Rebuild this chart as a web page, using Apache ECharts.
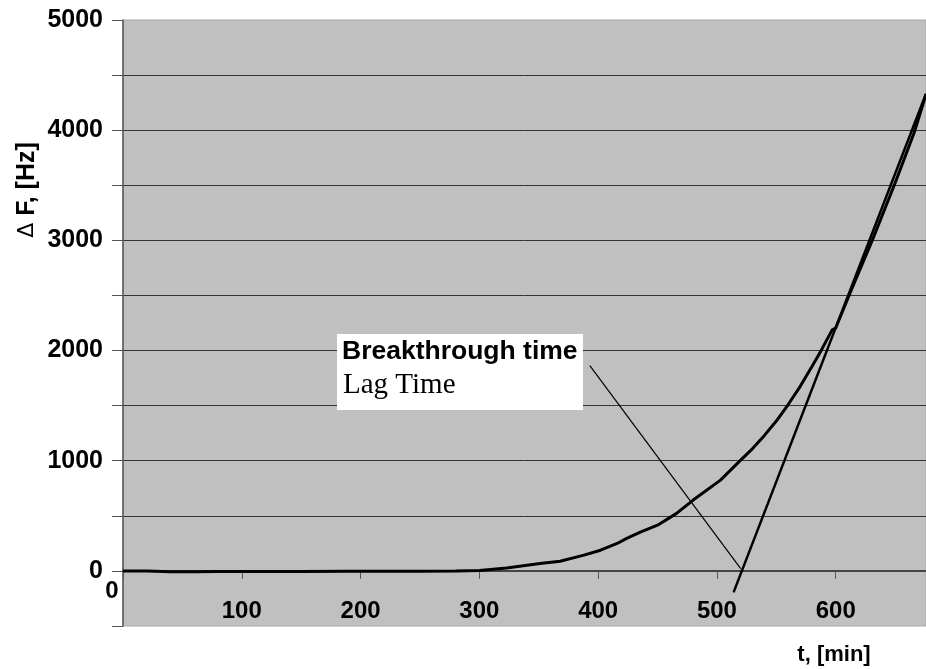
<!DOCTYPE html>
<html>
<head>
<meta charset="utf-8">
<script src="https://cdn.jsdelivr.net/npm/echarts@6/dist/echarts.min.js"></script>
<style>html,body{margin:0;padding:0;background:#fff}#c{width:926px;height:669px}</style>
</head>
<body>
<div id="c"></div>
<script>
// Measured curve (t in min, ΔF in Hz)
const curveT = [0,20,40,60,80,100,150,190,220,250,280,300,323,351,368,388,402,416,424,436,450,466,480,503,520,530,540,550,560,570,580,588,597,600,612,631,650,666,676];
const curveF = [0,0,-8,-8,-5,-6,-6,-3,-4,-2,0,3,27,67,88,143,188,249,295,355,415,522,643,824,1006,1110,1230,1360,1510,1673,1855,2006,2188,2205,2521,3006,3521,3976,4324];
// Tangent line (lag time construction)
const tangentT = [514, 676];
const tangentF = [-195, 4330];
// Pointer line from annotation to lag-time intercept
const pointerT = [393, 520];
const pointerF = [1864, 20];
// Axis
const yTicks = [0,1000,2000,3000,4000,5000];
const xTicks = [100,200,300,400,500,600];

const zip = (a,b)=>a.map((v,i)=>[v,b[i]]);
const chart = echarts.init(document.getElementById('c'));
chart.setOption({
  animation:false,
  backgroundColor:'#ffffff',
  grid:{left:123,top:20,right:0,bottom:43,outerBoundsMode:'none',containLabel:false,show:true,backgroundColor:'#c0c0c0',borderColor:'#a6a6a6',borderWidth:1},
  xAxis:{type:'value',min:0,max:676,interval:100,
    axisLine:{onZero:true,lineStyle:{color:'#444',width:2}},
    axisTick:{show:true,inside:false,length:8,lineStyle:{color:'#555'}},
    axisLabel:{margin:-27,color:'#000',fontFamily:'Liberation Sans, Arial',fontWeight:'bold',fontSize:24,
      formatter:v=>xTicks.indexOf(v)>=0?String(v):''},
    splitLine:{show:false}},
  yAxis:{type:'value',min:-500,max:5000,interval:500,
    axisLine:{show:true,lineStyle:{color:'#555',width:1.5}},
    axisTick:{show:true,length:11,lineStyle:{color:'#555'}},
    axisLabel:{margin:20,color:'#000',fontFamily:'Liberation Sans, Arial',fontWeight:'bold',fontSize:25,
      formatter:v=>yTicks.indexOf(v)>=0?String(v):''},
    splitLine:{show:true,showMinLine:false,showMaxLine:false,lineStyle:{color:'#333',width:1}}},
  series:[
    {type:'line',data:zip(curveT,curveF),showSymbol:false,lineStyle:{color:'#000',width:3},z:3},
    {type:'line',data:zip(tangentT,tangentF),showSymbol:false,lineStyle:{color:'#000',width:2.5},z:4},
    {type:'line',data:zip(pointerT,pointerF),showSymbol:false,lineStyle:{color:'#000',width:1.2},z:4}
  ],
  graphic:[
    {type:'rect',left:337,top:334,shape:{width:246,height:76},style:{fill:'#fff'},z:100},
    {type:'text',left:342,top:338,style:{text:'Breakthrough time',font:'bold 26.5px "Liberation Sans", Arial',fill:'#000'},z:101},
    {type:'text',left:343,top:371,style:{text:'Lag Time',font:'29px "Liberation Serif", "Times New Roman"',fill:'#000'},z:101},
    {type:'text',x:27,y:190,rotation:Math.PI/2,style:{text:'{a|Δ} F, [Hz]',align:'center',verticalAlign:'middle',font:'bold 25px "Liberation Sans", Arial',fill:'#000',rich:{a:{font:'22px "DejaVu Sans"',fill:'#000'}}},z:101},
    {type:'text',x:834,y:655,style:{text:'t, [min]',align:'center',verticalAlign:'middle',font:'bold 22px "Liberation Sans", Arial',fill:'#000'},z:101},
    {type:'text',x:112,y:591,style:{text:'0',align:'center',verticalAlign:'middle',font:'bold 24px "Liberation Sans", Arial',fill:'#000'},z:101}
  ]
});
</script>
</body>
</html>
